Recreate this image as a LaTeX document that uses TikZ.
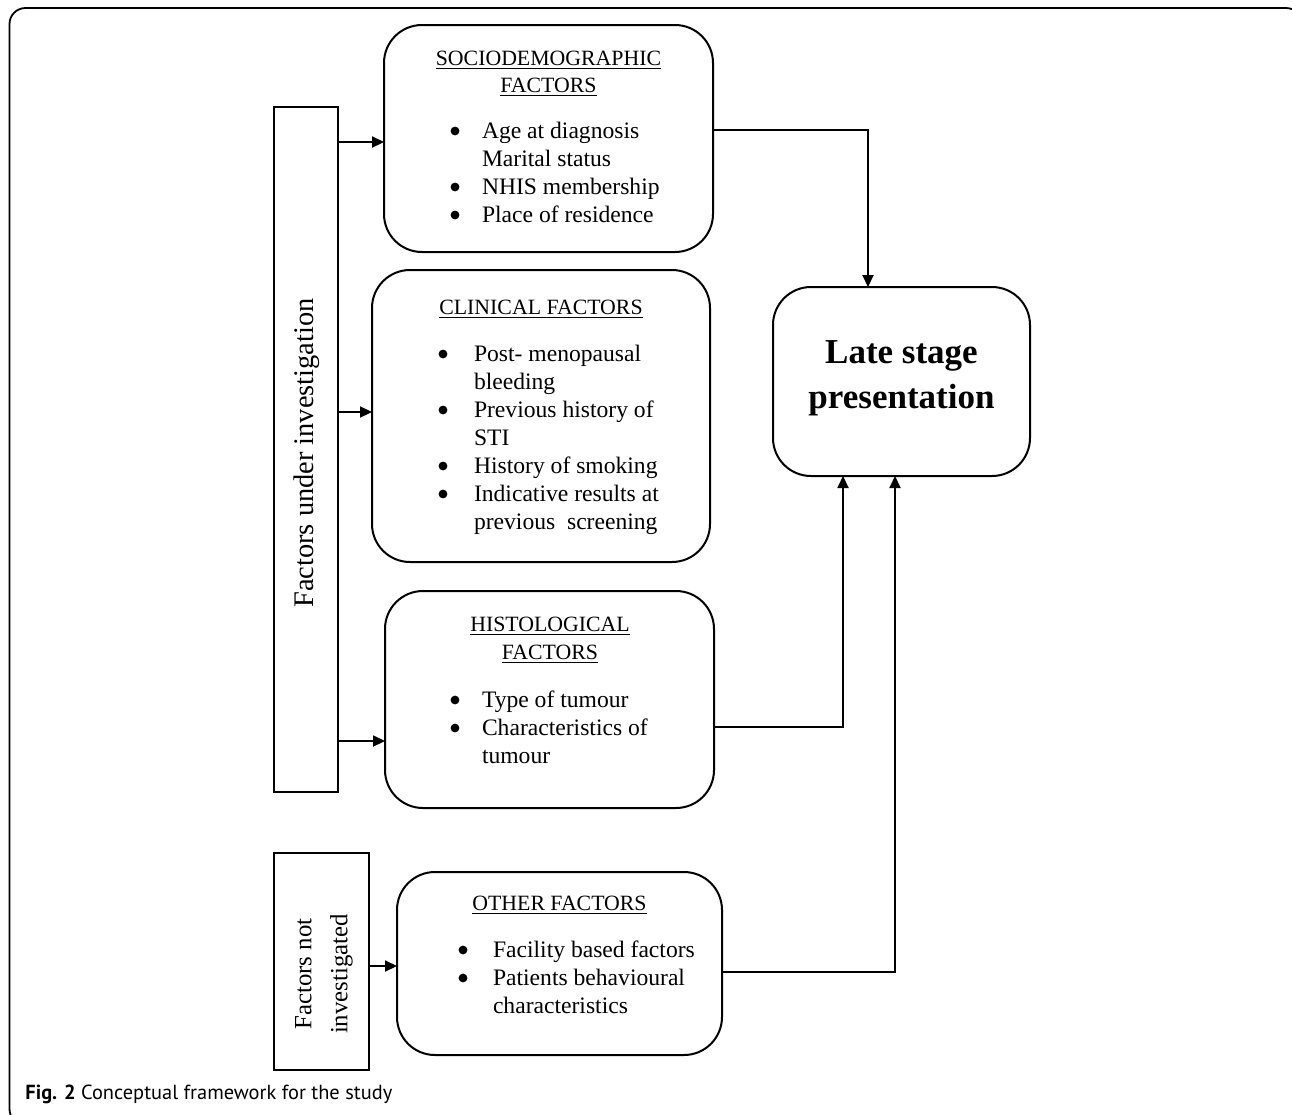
\documentclass[tikz,border=0pt]{standalone}
\usepackage{fontspec}
\setmainfont{Liberation Serif}
\newfontfamily\capfont{PT Sans}
\usetikzlibrary{arrows.meta}
\begin{document}
\begin{tikzpicture}[x=0.5pt,y=-0.5pt,
 rbox/.style={draw,line width=1pt,rounded corners=19pt,inner sep=0pt,outer sep=0pt},
 sbox/.style={draw,line width=1pt,inner sep=0pt,outer sep=0pt},
 txt/.style={inner sep=0pt,outer sep=0pt,font=\fontsize{11.8}{14}\selectfont},
 head/.style={inner sep=0pt,outer sep=0pt,anchor=base,font=\fontsize{10.9}{13.5}\selectfont},
 lst/.style={txt,anchor=base west},
 dot/.style={fill=black},
 conn/.style={line width=0.6pt},
 arr/.style={conn,-{Triangle[length=6pt,width=5.6pt]}}
]
\useasboundingbox (0,0) rectangle (1292,1115);
\begin{scope}
\clip (0,0) rectangle (1292,1115);
\draw[line width=0.9pt, rounded corners=8pt] (9.5,8) rectangle (1302,1125);
\end{scope}

% left boxes
\node[sbox, minimum width=32pt, minimum height=342.5pt] (inv) at (305.5,449.5) {};
\node[inner sep=0pt, rotate=90, font=\fontsize{14.2}{17}\selectfont] (invtext) at (306.5,453) {Factors under investigation};
\node[sbox, minimum width=47.5pt, minimum height=108.5pt] (notinv) at (321,961.5) {};
\node[inner sep=0pt, rotate=90, align=center, font=\fontsize{12.4}{18}\selectfont] (notinvtext) at (324,974) {Factors not\\investigated};

% middle boxes
\node[rbox, minimum width=164.5pt, minimum height=113.5pt] (socio) at (548.5,138.5) {};
\node[rbox, minimum width=169pt, minimum height=146pt] (clin) at (541,416) {};
\node[rbox, minimum width=164.5pt, minimum height=108.5pt] (histo) at (549.5,699.5) {};
\node[rbox, minimum width=162.5pt, minimum height=91.5pt] (other) at (559.5,963.5) {};
\node[rbox, minimum width=128.5pt, minimum height=94.5pt] (late) at (901.5,381.5) {};

% headings
\node[head] (sochead) at (548.5,65) {\begin{tabular}[t]{@{}c@{}}\underline{SOCIODEMOGRAPHIC}\\\underline{FACTORS}\end{tabular}};
\node[head] (clinhead) at (541,314) {\underline{CLINICAL FACTORS}};
\node[head] (histhead) at (550,631) {\begin{tabular}[t]{@{}c@{}}\underline{HISTOLOGICAL}\\[0.5pt]\underline{FACTORS}\end{tabular}};
\node[head] (othhead) at (559.5,910) {\underline{OTHER FACTORS}};

% lists
\node[lst] (soclist) at (482,138) {\begin{tabular}[t]{@{}l@{}}
Age at diagnosis\\
Marital status\\
NHIS membership\\
Place of residence
\end{tabular}};
\node[lst] (clinlist) at (474,361) {\begin{tabular}[t]{@{}l@{}}
Post- menopausal\\
bleeding\\
Previous history of\\
STI\\
History of smoking\\
Indicative results at\\
previous\ \ screening
\end{tabular}};
\node[lst] (histlist) at (482,707) {\begin{tabular}[t]{@{}l@{}}
Type of tumour\\
Characteristics of\\
tumour
\end{tabular}};
\node[lst] (othlist) at (493,957) {\begin{tabular}[t]{@{}l@{}}
Facility based factors\\
Patients behavioural\\
characteristics
\end{tabular}};

% bullets
\foreach \y in {131,187,215} \fill[dot] (455,\y) circle (4.4);
\foreach \y in {354,410,466,494} \fill[dot] (443,\y) circle (4.4);
\foreach \y in {700,728} \fill[dot] (455,\y) circle (4.4);
\foreach \y in {950,978} \fill[dot] (463,\y) circle (4.4);

% late stage text
\node[inner sep=0pt, anchor=base, font=\fontsize{17.5}{22.5}\selectfont\bfseries] (latetext) at (901.5,363) {\begin{tabular}[t]{@{}c@{}}Late stage\\presentation\end{tabular}};

% connectors
\draw[arr] (inv.east |- 0,142) -- (socio.west |- 0,142);
\draw[arr] (inv.east |- 0,412) -- (clin.west |- 0,412);
\draw[arr] (inv.east |- 0,741) -- (histo.west |- 0,741);
\draw[arr] (notinv.east |- 0,966) -- (other.west |- 0,966);
\draw[arr] (socio.east |- 0,130) -| (late.north -| 868,0);
\draw[arr] (histo.east |- 0,727) -| (late.south -| 843,0);
\draw[arr] (other.east |- 0,972) -| (late.south -| 895,0);

% caption
\node[inner sep=0pt, anchor=base west, font=\capfont\fontsize{10.2}{12}\selectfont] (caption) at (25,1099) {\textbf{Fig. 2} Conceptual framework for the study};
\end{tikzpicture}
\end{document}
